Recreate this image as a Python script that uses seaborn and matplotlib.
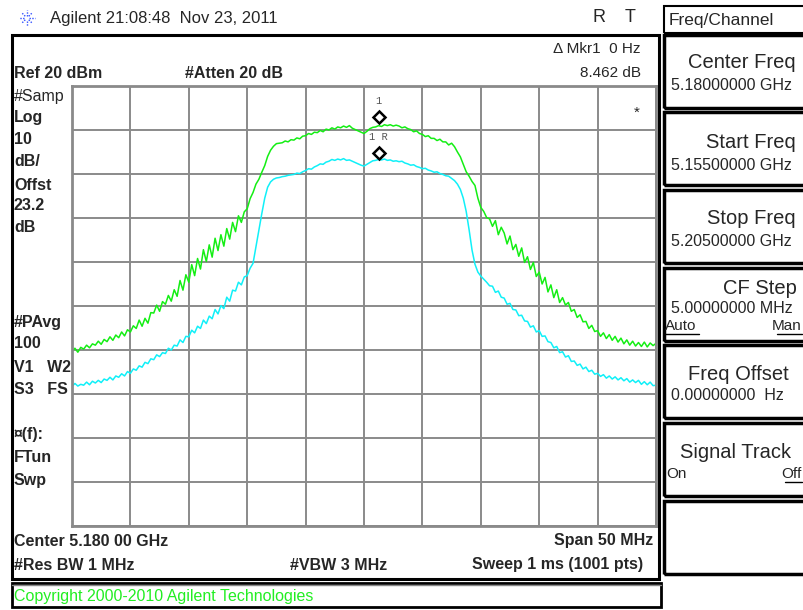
import numpy as np
import pandas as pd
import matplotlib
matplotlib.use("Agg")
import matplotlib.pyplot as plt
from matplotlib.patches import Rectangle
from matplotlib.lines import Line2D
import seaborn as sns

# ---------------- data ----------------
start_ghz = 5.155
stop_ghz = 5.205
n_points = 201
ref_level_dbm = 20
db_per_div = 10

trace1_dbm = [
    -40.3, -39.6, -40.5, -39.4,  -39.8, -38.9, -39.5, -38.6,  -38.9, -38.0, -38.7, -37.6,
    -38.1, -37.0, -37.8, -36.6,  -37.2, -35.9, -36.8, -35.4,  -35.9, -34.5, -35.1, -33.2,
    -34.6, -32.8, -33.9, -31.5,  -31.6, -29.8, -31.2, -29.0,  -29.6, -27.6, -28.9, -26.3,
    -27.8, -24.2, -26.4, -22.9,  -24.6, -20.6, -23.1, -19.2,  -21.6, -17.2, -19.9, -16.1,
    -18.9, -14.6, -17.4, -13.8,  -16.4, -12.4, -14.8, -11.0,  -13.1, -9.5, -11.0, -8.6,
    -7.9, -5.6, -4.2, -2.3,  -1.2, 0.4, 1.9, 4.0,  5.4, 6.3, 6.9, 7.0,
    7.1, 7.5, 7.3, 7.8,  7.7, 8.2, 8.0, 8.6,  8.7, 9.2, 9.0, 9.5,
    9.4, 9.9, 9.6, 10.2,  10.0, 10.5, 10.2, 10.7,  10.5, 10.9, 10.6, 11.0,
    10.4, 10.1, 9.8, 9.5,
    9.2, 9.7, 10.3, 10.6,  10.7, 11.0, 10.8, 11.2,  11.0, 11.2, 10.9, 11.1,
    10.9, 10.5, 10.7, 10.3,  10.1, 9.6, 9.8, 9.2,  9.0, 8.5, 8.7, 8.1,
    8.1, 7.6, 7.9, 7.3,  7.3, 6.6, 7.0, 6.2,  5.0, 3.9, 2.2, 0.5,
    -0.5, -1.7, -2.6, -5.5,  -7.6, -8.5, -9.9, -10.2,  -11.9, -10.6, -13.8, -12.1,
    -13.4, -15.9, -14.1, -17.2,  -16.0, -18.7, -16.8, -20.1,  -18.8, -21.7, -20.1, -23.3,
    -22.3, -25.0, -23.5, -26.8,  -25.2, -28.1, -26.3, -29.2,  -28.1, -29.8, -29.2, -31.2,
    -30.8, -32.6, -32.0, -33.6,  -33.5, -35.1, -34.4, -35.8,  -35.6, -36.9, -36.1, -37.4,
    -36.5, -37.8, -36.9, -38.2,  -37.3, -38.6, -37.7, -38.9,  -38.0, -39.1, -38.3, -39.2,
    -38.2, -39.3, -38.4, -39.0,  -38.5,
]

trace2_dbm = [
    -48.3, -47.6, -48.2, -47.8,  -48.0, -47.3, -47.9, -47.1,  -47.5, -46.9, -47.4, -46.6,
    -46.9, -46.2, -46.8, -45.9,  -46.2, -45.4, -45.9, -44.9,  -45.3, -44.3, -44.6, -43.6,
    -43.9, -42.8, -43.1, -42.0,  -42.2, -41.1, -41.5, -40.6,  -40.8, -39.6, -40.0, -38.9,
    -39.1, -37.7, -38.3, -36.9,  -37.0, -35.5, -36.1, -34.6,  -35.1, -33.2, -34.0, -32.3,
    -32.9, -30.8, -31.8, -29.9,  -30.6, -28.0, -28.9, -26.4,  -26.6, -24.6, -25.2, -23.4,
    -23.1, -21.4, -20.3, -16.5,  -12.8, -9.0, -5.5, -3.0,  -1.8, -1.2, -0.9, -0.8,
    -0.6, -0.5, -0.3, -0.2,  -0.1, 0.2, 0.1, 0.5,  0.8, 1.2, 1.1, 1.6,
    1.9, 2.3, 2.2, 2.7,  2.9, 3.3, 3.1, 3.4,  3.2, 3.5, 3.1, 3.2,
    2.9, 2.6, 2.3, 2.0,
    1.8, 2.2, 2.6, 3.0,  3.1, 3.3, 3.2, 3.4,  3.1, 3.2, 2.9, 3.0,
    2.8, 2.9, 2.5, 2.3,  2.0, 2.1, 1.7, 1.5,  1.2, 1.3, 0.9, 0.7,
    0.4, 0.5, 0.1, -0.1,  -0.4, -0.5, -1.0, -1.5,  -2.3, -3.5, -5.5, -8.5,
    -12.7, -17.3, -20.5, -22.3,  -23.2, -23.9, -24.6, -25.4,  -25.5, -26.9, -26.6, -28.0,
    -28.2, -29.6, -29.4, -30.8,  -30.9, -32.2, -32.1, -33.4,  -33.5, -34.8, -34.5, -35.9,
    -35.6, -36.9, -36.8, -38.1,  -38.3, -39.5, -39.2, -40.6,  -40.4, -41.6, -41.3, -42.6,
    -42.5, -43.5, -43.2, -44.3,  -43.9, -44.9, -44.6, -45.5,  -45.3, -46.0, -45.6, -46.4,
    -45.9, -46.6, -46.1, -46.8,  -46.3, -47.0, -46.5, -47.3,  -46.8, -47.4, -46.9, -47.8,
    -47.2, -47.9, -47.3, -48.1,  -48.0,
]

marker_index = 105          # marker 1 / 1R sweep point
marker_labels = ["1", "1 R"]

header_text = "Agilent 21:08:48  Nov 23, 2011"
left_labels = [
    ("#Samp", 96, "normal"), ("Log", 117, "bold"), ("10", 140, "bold"),
    ("dB/", 162, "bold"), ("Offst", 185, "bold"), ("23.2", 206, "bold"),
    ("dB", 227, "bold"), ("#PAvg", 322, "bold"), ("100", 344, "bold"),
    ("V1   W2", 367, "bold"), ("S3   FS", 389, "bold"), ("¤(f):", 435, "bold"),
    ("FTun", 458, "bold"), ("Swp", 481, "bold"),
]
softkey_titles = ["Center Freq", "Start Freq", "Stop Freq", "CF Step",
                  "Freq Offset", "Signal Track", ""]
softkey_values = ["5.18000000 GHz", "5.15500000 GHz", "5.20500000 GHz",
                  "5.00000000 MHz", "0.00000000  Hz", "", ""]

# ---------------- figure ----------------
W, H = 804, 610
sns.set_style("white")
plt.rcParams["font.family"] = ["Liberation Sans", "DejaVu Sans"]

fig = plt.figure(figsize=(W / 100, H / 100), dpi=100)
fig.patch.set_facecolor("white")


def fx(x):
    return x / W


def fy(y):
    return 1 - y / H


def ftxt(x, y, s, **kw):
    kw.setdefault("va", "center")
    fig.text(fx(x), fy(y), s, **kw)


def frect(x0, y0, x1, y1, **kw):
    fig.add_artist(Rectangle((fx(x0), fy(y1)), (x1 - x0) / W, (y1 - y0) / H,
                             transform=fig.transFigure, fill=False, **kw))


def fline(xs, ys, **kw):
    fig.add_artist(Line2D([fx(v) for v in xs], [fy(v) for v in ys],
                          transform=fig.transFigure, **kw))


# graticule axes
gx0, gx1, gy0, gy1 = 72, 656, 86, 526
ax = fig.add_axes([fx(gx0), fy(gy1), (gx1 - gx0) / W, (gy1 - gy0) / H])

freq = np.linspace(start_ghz, stop_ghz, n_points)
df = pd.DataFrame({
    "freq": np.concatenate([freq, freq]),
    "dbm": np.array(trace1_dbm + trace2_dbm),
    "trace": ["1"] * n_points + ["2"] * n_points,
})
sns.lineplot(data=df, x="freq", y="dbm", hue="trace",
             palette={"1": "#14ee14", "2": "#10f0f8"},
             estimator=None, sort=False, linewidth=1.1, legend=False, ax=ax)

ax.set_xlim(start_ghz, stop_ghz)
ax.set_ylim(ref_level_dbm - 10 * db_per_div, ref_level_dbm)
ax.set_xticks(np.linspace(start_ghz, stop_ghz, 11))
ax.set_yticks(np.linspace(ref_level_dbm - 10 * db_per_div, ref_level_dbm, 11))
ax.grid(True, color="#8a8a8a", linewidth=1.4)
ax.set_axisbelow(True)
ax.tick_params(length=0, labelbottom=False, labelleft=False)
ax.set_xlabel("")
ax.set_ylabel("")
for s in ax.spines.values():
    s.set_color("#8a8a8a")
    s.set_linewidth(2)

# markers
mf = freq[marker_index]
for vals, lab, dy in [(trace1_dbm, marker_labels[0], 2.0), (trace2_dbm, marker_labels[1], 1.5)]:
    my = vals[marker_index] + dy
    ax.plot([mf], [my], marker="D", markersize=6.5, mfc="white", mec="black",
            mew=1.8, zorder=5)
    ax.annotate(lab, (mf, my), xytext=(0, 8), textcoords="offset points",
                ha="center", va="bottom", fontsize=7.5, color="#555555",
                family="Liberation Mono")

# ---------------- screen frame ----------------
frect(12, 35, 659, 579, edgecolor="black", linewidth=2.2)
frect(12, 583, 661, 607, edgecolor="black", linewidth=2.0)
fline([12, 661], [585, 585], color="#888888", linewidth=1)

# header
for a in range(8):
    ang = np.pi * a / 4
    fline([27 + 2.5 * np.cos(ang), 27 + 8 * np.cos(ang)],
          [18 + 2.5 * np.sin(ang), 18 + 8 * np.sin(ang)],
          color="#3050ff", linewidth=1, linestyle=(0, (1, 1)))
ftxt(50, 18, header_text, fontsize=12)
ftxt(593, 18, "R", fontsize=13)
ftxt(625, 18, "T", fontsize=13)

# screen annotations
ftxt(14, 73, "Ref 20 dBm", fontsize=11.5, fontweight="bold")
ftxt(185, 73, "#Atten 20 dB", fontsize=11.5, fontweight="bold")
ftxt(641, 49, "\u0394 Mkr1  0 Hz", fontsize=11, ha="right")
ftxt(641, 73, "8.462 dB", fontsize=11, ha="right")
ftxt(637, 113, "*", fontsize=11, ha="center")
for s, y, w in left_labels:
    ftxt(14, y, s, fontsize=11.5, fontweight=w)
ftxt(14, 541, "Center 5.180 00 GHz", fontsize=11.5, fontweight="bold")
ftxt(653, 541, "Span 50 MHz", fontsize=11.5, fontweight="bold", ha="right")
ftxt(14, 565, "#Res BW 1 MHz", fontsize=11.5, fontweight="bold")
ftxt(290, 565, "#VBW 3 MHz", fontsize=11.5, fontweight="bold")
ftxt(643, 565, "Sweep 1 ms (1001 pts)", fontsize=11.5, fontweight="bold", ha="right")
ftxt(14, 597, "Copyright 2000-2010 Agilent Technologies", fontsize=11.5, color="#22ee22")

# ---------------- softkey panel ----------------
frect(664, 6, 810, 33, edgecolor="black", linewidth=1.5)
ftxt(669, 20, "Freq/Channel", fontsize=12.5)
tops = [35, 112, 190, 268, 345, 423, 501]
title_dy = [27, 30, 29, 20, 29, 29, 0]
value_dy = [51, 53, 52, 40, 50, 0, 0]
title_right = [796, 796, 796, 797, 789, 791, 0]
for title, value, t, tdy, vdy, tr in zip(softkey_titles, softkey_values, tops,
                                         title_dy, value_dy, title_right):
    frect(664, t, 812, t + 73, edgecolor="black", linewidth=2.5)
    if title:
        ftxt(tr, t + tdy, title, fontsize=14.5, ha="right")
    if value:
        ftxt(671, t + vdy, value, fontsize=11.5)
# CF step Auto / Man
ftxt(665, 326, "Auto", fontsize=11)
fline([665, 699], [334, 334], color="black", linewidth=1)
ftxt(802, 326, "Man", fontsize=11, ha="right")
fline([777, 802], [334, 334], color="black", linewidth=1)
# Signal track On / Off
ftxt(666, 474, "On", fontsize=11)
ftxt(802, 474, "Off", fontsize=11, ha="right")
fline([785, 802], [482, 482], color="black", linewidth=1)

fig.savefig("out.png", dpi=100, facecolor="white")
